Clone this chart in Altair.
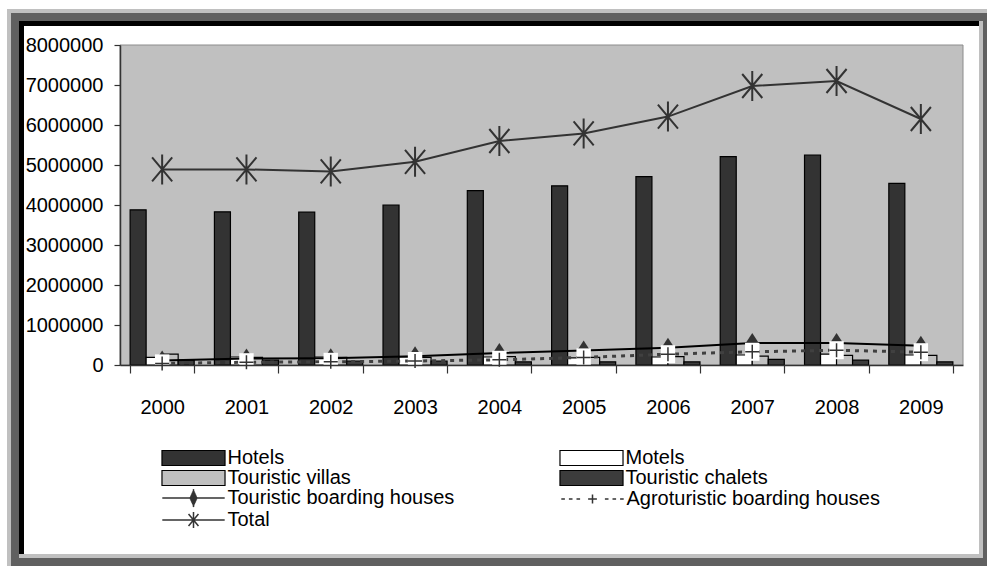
import altair as alt
import pandas as pd

# Arrivals in tourist accommodation by type, 2000-2009
years = ["2000", "2001", "2002", "2003", "2004", "2005", "2006", "2007", "2008", "2009"]
hotels = [3880000, 3830000, 3820000, 4000000, 4360000, 4480000, 4710000, 5210000, 5250000, 4540000]
motels = [190000, 200000, 200000, 200000, 200000, 180000, 200000, 250000, 270000, 250000]
villas = [270000, 190000, 190000, 190000, 210000, 190000, 210000, 220000, 240000, 240000]
chalets = [120000, 120000, 100000, 100000, 80000, 80000, 80000, 140000, 120000, 80000]
boarding = [110000, 160000, 170000, 220000, 300000, 360000, 430000, 550000, 550000, 480000]
agro = [40000, 70000, 80000, 100000, 130000, 190000, 270000, 330000, 370000, 320000]
total = [4890000, 4890000, 4840000, 5080000, 5600000, 5790000, 6210000, 6975000, 7100000, 6150000]

bar_names = ["Hotels", "Motels", "Touristic villas", "Touristic chalets"]
bar_fill = {"Hotels": "#333333", "Motels": "#ffffff",
            "Touristic villas": "#c0c0c0", "Touristic chalets": "#3c3c3c"}
line_names = ["Touristic boarding houses", "Agroturistic boarding houses", "Total"]

# legends fill column by column: left column first, then right column
bar_legend_order = ["Hotels", "Touristic villas", "Motels", "Touristic chalets"]
line_legend_order = ["Touristic boarding houses", "Total", "Agroturistic boarding houses"]

FONT = "Liberation Sans, Arial, Helvetica, sans-serif"
FS = 20
W, H = 843, 320          # plot area
OX, OY = 120, 45         # plot origin on the page
PAGE_W, PAGE_H = 987, 566

bars = pd.DataFrame(
    [(y, n, v) for n, vals in zip(bar_names, [hotels, motels, villas, chalets])
     for y, v in zip(years, vals)],
    columns=["year", "series", "value"],
)
lines = pd.DataFrame({"year": years, "boarding": boarding, "agro": agro, "total": total})

# marker paths
DIAMOND = "M0,-1L0.65,0L0,1L-0.65,0Z"
PLUS = "M-1,0L1,0M0,-1L0,1"
ASTER = "M0,-1L0,1M-0.67,-0.8L0.67,0.8M-0.67,0.8L0.67,-0.8"
BOX = "M-0.8,-1L0.8,-1L0.8,1L-0.8,1Z"

# legend symbols: unit = 8 px (symbol size 256)
SWATCH = "M-3.94,-0.94L3.94,-0.94L3.94,0.94L-3.94,0.94Z"


def solid_diamond(half_w=0.5, half_h=1.1, step=0.14):
    # diamond drawn as stacked strokes so it reads as solid with stroke-only symbols
    parts = []
    k = -half_h + step / 2
    while k < half_h:
        w = half_w * (1 - abs(k) / half_h)
        parts.append(f"M{-w:.3f},{k:.3f}L{w:.3f},{k:.3f}")
        k += step
    parts.append(f"M0,{-half_h}L0,{half_h}")
    return "".join(parts)


LEG_BOARD = "M-3.9,0L3.9,0" + solid_diamond()
LEG_AGRO = ("M-3.9,0L-3.45,0M-2.95,0L-2.5,0M-2,0L-1.55,0"
            "M-0.55,0L0.55,0M0,-0.55L0,0.55"
            "M1.55,0L2,0M2.5,0L2.95,0M3.45,0L3.9,0")
LEG_TOTAL = "M-3.9,0L3.9,0M0,-1L0,1M-0.62,-0.75L0.62,0.75M-0.62,0.75L0.62,-0.75"
line_legend_paths = {"Touristic boarding houses": LEG_BOARD,
                     "Agroturistic boarding houses": LEG_AGRO,
                     "Total": LEG_TOTAL}

one = pd.DataFrame({"k": [0]})


def panel(x0, y0, x1, y1, color):
    return alt.Chart(one).mark_rect(color=color).encode(
        x=alt.value(x0 - OX), x2=alt.value(x1 - OX),
        y=alt.value(y0 - OY), y2=alt.value(y1 - OY),
    )


# bevelled page frame
frame = [
    panel(7, 9, 987, 566, "#c0c0c0"),
    panel(11, 13, 987, 566, "#606060"),
    panel(19, 21, 983, 558, "#c0c0c0"),
    panel(19, 21, 979, 554, "#000000"),
    panel(24, 26, 979, 554, "#ffffff"),
]
plot_bg = alt.Chart(one).mark_rect(color="#c0c0c0", stroke="#8c8c8c", strokeWidth=1).encode(
    x=alt.value(0), x2=alt.value(W), y=alt.value(0), y2=alt.value(H)
)

x_enc = alt.X(
    "year:N", sort=years,
    scale=alt.Scale(domain=years, paddingInner=0.24, paddingOuter=0.12),
    axis=alt.Axis(title=None, labelAngle=0, tickBand="extent", tickSize=8,
                  labelPadding=24, zindex=1),
)
y_scale = alt.Scale(domain=[0, 8000000], nice=False)
y_axis = alt.Axis(title=None, values=[i * 1000000 for i in range(9)], format="d",
                  tickSize=6, labelPadding=11, grid=False, labelOverlap=False, zindex=1)


def y_of(field):
    return alt.Y(f"{field}:Q", scale=y_scale, axis=y_axis)


bar_layer = alt.Chart(bars).mark_bar(stroke="black", strokeWidth=1.2).encode(
    x=x_enc,
    xOffset=alt.XOffset("series:N", sort=bar_names,
                        scale=alt.Scale(domain=bar_names, paddingInner=0, paddingOuter=0)),
    y=y_of("value"),
    fill=alt.Fill(
        "series:N",
        scale=alt.Scale(domain=bar_legend_order,
                        range=[bar_fill[n] for n in bar_legend_order]),
        legend=alt.Legend(
            title=None, orient="none", legendX=63.5, legendY=403, columns=2,
            columnPadding=206, rowPadding=-3, symbolType=SWATCH, symbolSize=256,
            symbolStrokeColor="black", symbolStrokeWidth=1.2, labelOffset=24,
            padding=0, zindex=1,
        ),
    ),
)

base = alt.Chart(lines).encode(x=alt.X("year:N", sort=years))

board_line = base.mark_line(color="black", strokeWidth=2).encode(y=y_of("boarding"))
board_pts = base.mark_point(shape=DIAMOND, size=400, filled=True, color="#333333",
                            opacity=1).encode(y=y_of("boarding"))
agro_line = base.mark_line(color="#404040", strokeWidth=3, strokeDash=[4, 5]).encode(
    y=y_of("agro"))
agro_box = base.mark_point(shape=BOX, size=324, filled=True, color="white",
                           opacity=1).encode(y=y_of("agro"))
agro_pts = base.mark_point(shape=PLUS, size=196, color="#333333", strokeWidth=1.5,
                           opacity=1).encode(y=y_of("agro"))
total_line = base.mark_line(color="#333333", strokeWidth=2).encode(y=y_of("total"))
total_pts = base.mark_point(shape=ASTER, size=900, color="#333333", strokeWidth=2,
                            opacity=1).encode(y=y_of("total"))

# legend entries for the line series
line_legend = alt.Chart(pd.DataFrame({"series": line_names})).transform_filter(
    "false"
).mark_point(filled=False, color="#333333", strokeWidth=1.5, size=256, opacity=1).encode(
    shape=alt.Shape(
        "series:N",
        scale=alt.Scale(domain=line_legend_order,
                        range=[line_legend_paths[n] for n in line_legend_order]),
        legend=alt.Legend(
            title=None, orient="none", legendX=63.5, legendY=443, columns=2,
            columnPadding=103, rowPadding=-6, symbolSize=256, symbolStrokeWidth=1.5,
            symbolStrokeColor="#333333", labelOffset=24,
            padding=0, zindex=1,
        ),
    )
)

chart = alt.layer(
    *frame, plot_bg, bar_layer, board_line, board_pts, agro_line, agro_box, agro_pts,
    total_line, total_pts, line_legend,
).resolve_scale(
    shape="independent"
).properties(
    width=W, height=H,
    padding={"left": OX, "top": OY, "right": PAGE_W - OX - W, "bottom": PAGE_H - OY - H},
    autosize=alt.AutoSizeParams(type="none"),
    background="white",
).configure_view(
    stroke=None
).configure_axis(
    labelFont=FONT, labelFontSize=FS, labelColor="black",
    domainColor="#333333", tickColor="#333333", domainWidth=1.5, tickWidth=1.2,
).configure_legend(
    labelFont=FONT, labelFontSize=FS, labelColor="black", labelLimit=400,
)

chart.save("out.html", embed_options={"renderer": "svg", "actions": False})
